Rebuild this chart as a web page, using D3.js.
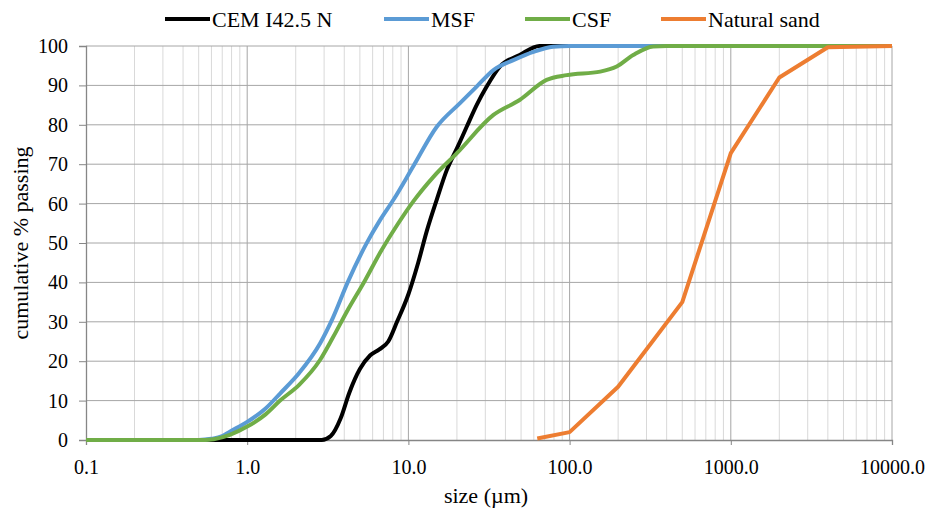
<!DOCTYPE html>
<html lang="en">
  <head>
    <meta charset="UTF-8" />
    <title>Particle size distribution</title>
    <script src="https://d3js.org/d3.v7.min.js"></script>
    <style>
      body { margin: 0; background: #fff; }
    </style>
  </head>
  <body>
    <script>
      // sizes in µm, values in cumulative % passing
      const cemSize = [0.1, 0.5, 1, 2, 2.9, 3.3, 3.8, 4.3, 5, 5.8, 6.6, 7.5, 8.5, 10, 11.5, 13, 15, 17.3, 20, 23, 26.5, 30.6, 37, 49, 65, 100, 200];
      const cemPass = [0, 0, 0, 0, 0, 1, 5.5, 12, 18, 21.5, 23, 25, 30, 37, 45, 53, 61, 68.5, 74, 79.5, 85, 89.7, 94.8, 97.7, 100, 100, 100];

      const msfSize = [0.1, 0.5, 0.6, 0.7, 0.78, 1.0, 1.3, 1.6, 2.1, 2.83, 3.4, 4.2, 5.5, 6.67, 8.06, 10.7, 15, 20.9, 26.5, 33.7, 44.8, 59.6, 79, 100, 10000];
      const msfPass = [0, 0, 0.3, 1, 2.1, 4.6, 8, 11.8, 17, 24.5, 31, 40, 49.9, 55.8, 60.9, 69.4, 79.5, 85.5, 89.7, 93.9, 96.4, 98.5, 99.8, 100, 100];

      const csfSize = [0.1, 0.55, 0.62, 0.78, 1.0, 1.3, 1.6, 2.1, 2.83, 3.4, 4.14, 5.38, 6.67, 8.5, 10.7, 14.3, 20, 33.7, 49, 72, 96, 155, 196, 248, 330, 400, 10000];
      const csfPass = [0, 0, 0.2, 1.3, 3.4, 6.5, 10, 14, 20.3, 26, 32.5, 40.5, 47.5, 54.5, 60.5, 66.8, 72.8, 82.5, 86.3, 91.4, 92.6, 93.5, 94.8, 97.7, 99.9, 100, 100];

      const sandSize = [63, 100, 200, 500, 1000, 2000, 4000, 10000];
      const sandPass = [0.4, 2, 13.5, 35, 72.8, 92, 99.7, 100];

      const seriesNames = ["CEM I42.5 N", "MSF", "CSF", "Natural sand"];
      const seriesColors = ["#000000", "#5b9bd5", "#70ad47", "#ed7d31"];
      const xTickLabels = ["0.1", "1.0", "10.0", "100.0", "1000.0", "10000.0"];
      const yTicks = [0, 10, 20, 30, 40, 50, 60, 70, 80, 90, 100];

      const width = 928, height = 510;
      const margin = { top: 46, right: 36, bottom: 70, left: 86 };
      const font = "'Liberation Serif', 'Times New Roman', serif";

      const svg = d3.select("body").append("svg")
        .attr("width", width)
        .attr("height", height)
        .attr("font-family", font);

      const x = d3.scaleLog().domain([0.1, 10000]).range([margin.left, width - margin.right]);
      const y = d3.scaleLinear().domain([0, 100]).range([height - margin.bottom, margin.top]);

      // minor vertical grid (2..9 in each decade)
      const minor = [];
      for (let d = 0.1; d < 10000; d *= 10) {
        for (let k = 2; k <= 9; k++) minor.push(d * k);
      }
      svg.append("g").selectAll("line").data(minor).join("line")
        .attr("x1", d => x(d)).attr("x2", d => x(d))
        .attr("y1", y(0)).attr("y2", y(100))
        .attr("stroke", "#d9d9d9").attr("stroke-width", 1);

      const decades = [0.1, 1, 10, 100, 1000, 10000];
      svg.append("g").selectAll("line").data(decades.slice(1)).join("line")
        .attr("x1", d => x(d)).attr("x2", d => x(d))
        .attr("y1", y(0)).attr("y2", y(100))
        .attr("stroke", "#a6a6a6").attr("stroke-width", 1);

      svg.append("g").selectAll("line").data(yTicks.slice(1)).join("line")
        .attr("x1", x(0.1)).attr("x2", x(10000))
        .attr("y1", d => y(d)).attr("y2", d => y(d))
        .attr("stroke", "#a6a6a6").attr("stroke-width", 1);

      // axes
      const yAxis = svg.append("g")
        .attr("transform", `translate(${margin.left},0)`)
        .call(d3.axisLeft(y).tickValues(yTicks).tickSize(7).tickPadding(11));
      yAxis.attr("font-family", font).attr("font-size", 20);
      yAxis.select(".domain").attr("stroke", "#868686").attr("stroke-width", 1.3);
      yAxis.selectAll(".tick line").attr("stroke", "#868686");
      yAxis.selectAll("text").attr("fill", "#000");

      const xAxis = svg.append("g")
        .attr("transform", `translate(0,${y(0)})`)
        .call(d3.axisBottom(x).tickValues(decades).tickSize(5).tickPadding(15)
          .tickFormat((d, i) => xTickLabels[i]));
      xAxis.attr("font-family", font).attr("font-size", 20);
      xAxis.select(".domain").attr("stroke", "#868686").attr("stroke-width", 1.3);
      xAxis.selectAll(".tick line").attr("stroke", "#868686");
      xAxis.selectAll("text").attr("fill", "#000");

      // series
      const series = [
        { sizes: cemSize, pass: cemPass, curve: d3.curveMonotoneX },
        { sizes: msfSize, pass: msfPass, curve: d3.curveMonotoneX },
        { sizes: csfSize, pass: csfPass, curve: d3.curveMonotoneX },
        { sizes: sandSize, pass: sandPass, curve: d3.curveLinear }
      ];
      series.forEach((s, i) => {
        const pts = s.sizes.map((v, j) => [v, s.pass[j]]);
        const line = d3.line().x(d => x(d[0])).y(d => y(d[1])).curve(s.curve);
        svg.append("path")
          .datum(pts)
          .attr("d", line)
          .attr("fill", "none")
          .attr("stroke", seriesColors[i])
          .attr("stroke-width", 4)
          .attr("stroke-linejoin", "round");
      });

      // legend
      const legendX = [165, 384, 525, 661];
      const lg = svg.append("g");
      seriesNames.forEach((name, i) => {
        lg.append("line")
          .attr("x1", legendX[i]).attr("x2", legendX[i] + 45)
          .attr("y1", 19).attr("y2", 19)
          .attr("stroke", seriesColors[i]).attr("stroke-width", 4);
        lg.append("text")
          .attr("x", legendX[i] + 47).attr("y", 27)
          .attr("font-size", 22)
          .text(name);
      });

      // axis titles
      svg.append("text")
        .attr("transform", `translate(28,${(y(0) + y(100)) / 2}) rotate(-90)`)
        .attr("text-anchor", "middle")
        .attr("font-size", 22)
        .text("cumulative % passing");

      svg.append("text")
        .attr("x", 486)
        .attr("y", 503)
        .attr("text-anchor", "middle")
        .attr("font-size", 22)
        .text("size (µm)");
    </script>
  </body>
</html>
